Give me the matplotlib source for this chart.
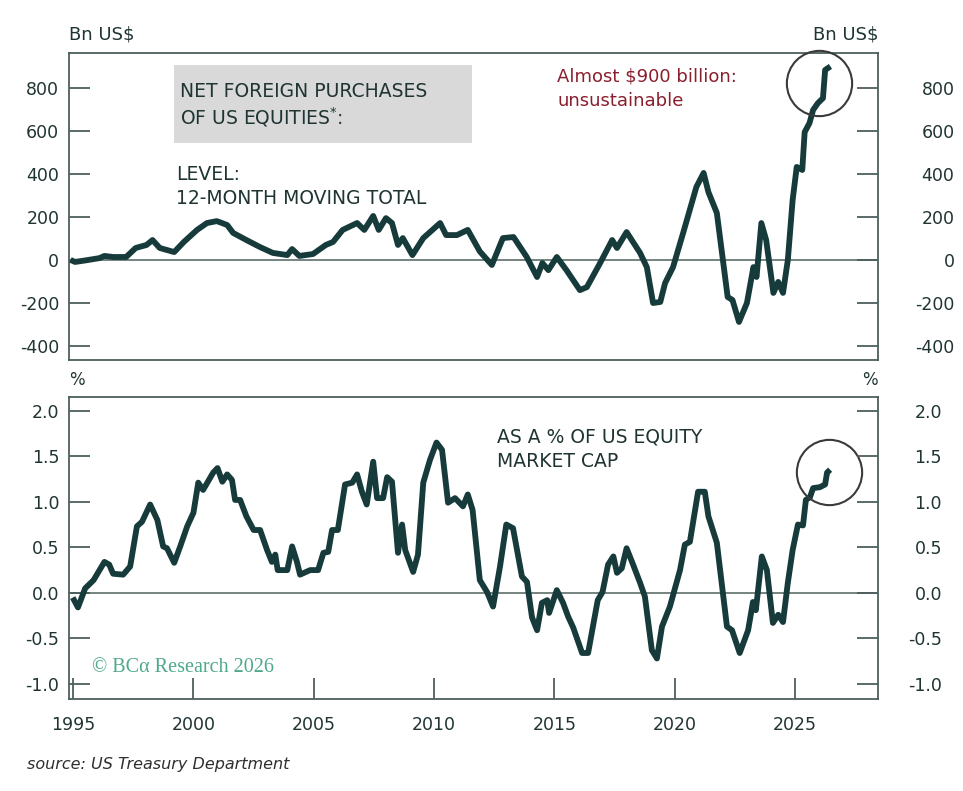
import matplotlib
matplotlib.use('Agg')
import matplotlib.pyplot as plt
from matplotlib.patches import Rectangle

plt.rcParams['font.family'] = ['DejaVu Sans']
plt.rcParams['axes.unicode_minus'] = False

# 12-month moving total of net foreign purchases of US equities, Bn US$
lvl_year = [1995.0, 1995.08, 1995.5, 1996.1, 1996.3, 1996.66, 1997.2, 1997.6, 1998.05, 1998.3,
            1998.6, 1999.2, 1999.6, 2000.15, 2000.56, 2000.97, 2001.4, 2001.65, 2002.2, 2002.77,
            2003.3, 2003.9, 2004.1, 2004.4, 2004.97, 2005.5, 2005.8, 2006.2, 2006.8, 2007.1,
            2007.47, 2007.7, 2008.0, 2008.25, 2008.5, 2008.7, 2009.1, 2009.55, 2010.25, 2010.5,
            2010.95, 2011.4, 2011.9, 2012.4, 2012.86, 2013.3, 2013.85, 2014.28, 2014.5, 2014.75,
            2015.1, 2015.5, 2016.06, 2016.35, 2016.9, 2017.4, 2017.6, 2018.0, 2018.56, 2018.84,
            2019.1, 2019.4, 2019.6, 2019.93, 2020.35, 2020.9, 2021.2, 2021.4, 2021.75, 2022.2,
            2022.4, 2022.67, 2023.0, 2023.27, 2023.4, 2023.6, 2023.8, 2024.1, 2024.3, 2024.5,
            2024.7, 2024.9, 2025.07, 2025.3, 2025.4, 2025.6, 2025.75, 2025.95, 2026.16, 2026.25,
            2026.37]
lvl_bn = [-5, -9, -2, 9, 19, 14, 14, 56, 70, 93,
          56, 37, 84, 140, 172, 181, 163, 126, 93, 60,
          33, 23, 51, 19, 28, 70, 84, 140, 172, 140,
          205, 140, 195, 172, 70, 102, 23, 102, 172, 116,
          116, 140, 40, -23, 102, 107, 14, -79, -14, -47,
          14, -47, -140, -126, -14, 93, 56, 130, 33, -33,
          -200, -195, -107, -33, 126, 340, 405, 316, 219, -172,
          -186, -288, -200, -33, -79, 172, 93, -153, -102, -153,
          0, 279, 433, 419, 595, 637, 698, 730, 753, 884,
          893]

# same flow as a % of US equity market cap
pct_year = [1995.04, 1995.2, 1995.5, 1995.85, 1996.1, 1996.3, 1996.5, 1996.66, 1997.08, 1997.37,
            1997.65, 1997.86, 1998.2, 1998.5, 1998.74, 1998.9, 1999.2, 1999.45, 1999.74, 2000.0,
            2000.2, 2000.4, 2000.82, 2001.0, 2001.2, 2001.4, 2001.6, 2001.73, 2001.94, 2002.2,
            2002.5, 2002.77, 2003.06, 2003.26, 2003.4, 2003.5, 2003.9, 2004.1, 2004.3, 2004.43,
            2004.85, 2005.18, 2005.4, 2005.6, 2005.76, 2006.0, 2006.3, 2006.6, 2006.8, 2007.0,
            2007.2, 2007.47, 2007.63, 2007.88, 2008.05, 2008.25, 2008.5, 2008.67, 2008.8, 2009.13,
            2009.33, 2009.55, 2009.83, 2010.1, 2010.33, 2010.58, 2010.87, 2011.2, 2011.4, 2011.6,
            2011.9, 2012.2, 2012.45, 2012.74, 2013.0, 2013.28, 2013.65, 2013.86, 2014.07, 2014.28,
            2014.48, 2014.7, 2014.78, 2015.1, 2015.36, 2015.57, 2015.78, 2016.15, 2016.4, 2016.8,
            2017.0, 2017.23, 2017.45, 2017.6, 2017.8, 2018.0, 2018.27, 2018.56, 2018.76, 2019.05,
            2019.26, 2019.47, 2019.8, 2020.22, 2020.42, 2020.63, 2020.97, 2021.25, 2021.4, 2021.75,
            2022.17, 2022.38, 2022.7, 2023.05, 2023.25, 2023.37, 2023.62, 2023.83, 2024.08, 2024.3,
            2024.5, 2024.7, 2024.9, 2025.12, 2025.33, 2025.45, 2025.62, 2025.75, 2026.03, 2026.25,
            2026.33, 2026.37]
pct_val = [-0.08, -0.16, 0.05, 0.14, 0.25, 0.34, 0.31, 0.21, 0.20, 0.29,
           0.73, 0.78, 0.97, 0.80, 0.51, 0.49, 0.33, 0.51, 0.73, 0.88,
           1.21, 1.13, 1.32, 1.37, 1.22, 1.30, 1.24, 1.02, 1.02, 0.84,
           0.69, 0.69, 0.47, 0.34, 0.42, 0.25, 0.25, 0.51, 0.34, 0.20,
           0.25, 0.25, 0.44, 0.45, 0.69, 0.69, 1.19, 1.21, 1.30, 1.11,
           0.97, 1.44, 1.04, 1.04, 1.27, 1.22, 0.44, 0.75, 0.47, 0.23,
           0.42, 1.21, 1.46, 1.65, 1.57, 0.99, 1.04, 0.95, 1.08, 0.91,
           0.14, 0.01, -0.15, 0.29, 0.75, 0.71, 0.18, 0.12, -0.27, -0.41,
           -0.11, -0.08, -0.22, 0.03, -0.11, -0.26, -0.38, -0.66, -0.66, -0.08,
           0.01, 0.31, 0.40, 0.22, 0.27, 0.49, 0.31, 0.11, -0.04, -0.63,
           -0.72, -0.37, -0.15, 0.25, 0.53, 0.56, 1.11, 1.11, 0.84, 0.55,
           -0.37, -0.41, -0.66, -0.41, -0.10, -0.19, 0.40, 0.25, -0.33, -0.24,
           -0.32, 0.11, 0.47, 0.75, 0.74, 1.02, 1.05, 1.15, 1.16, 1.19,
           1.32, 1.33]

lvl_ticks = [-400, -200, 0, 200, 400, 600, 800]
pct_ticks = [-1.0, -0.5, 0.0, 0.5, 1.0, 1.5, 2.0]
year_ticks = [1995, 2000, 2005, 2010, 2015, 2020, 2025]

LINE = '#173b3b'
SPINE = '#4c5f5d'
TXT = '#1f3433'
RED = '#8a1f2d'

fig = plt.figure(figsize=(9.63, 7.91), dpi=100)
ax1 = fig.add_axes([0.0717, 0.5449, 0.8401, 0.3881])
ax2 = fig.add_axes([0.0717, 0.1163, 0.8401, 0.3818])


def style_panel(ax, ticks, lim, fmt, rpad):
    ax.set_ylim(*lim)
    ax.set_xlim(1994.83, 2028.45)
    ax.set_yticks(ticks)
    ax.set_yticklabels([fmt.format(t) for t in ticks])
    for s in ax.spines.values():
        s.set_color(SPINE)
        s.set_linewidth(1.3)
    ax.tick_params(axis='y', direction='in', length=15, width=1.3, color=SPINE,
                   labelsize=12.5, labelcolor=TXT, pad=7)
    ax.axhline(0, color='#5d6e6c', lw=1.2, zorder=1)
    # right-hand axis with right-aligned labels
    tw = ax.twinx()
    tw.set_ylim(*lim)
    tw.set_yticks(ticks)
    tw.set_yticklabels([fmt.format(t) for t in ticks])
    for s in tw.spines.values():
        s.set_visible(False)
    tw.tick_params(axis='y', direction='in', length=15, width=1.3, color=SPINE,
                   labelsize=12.5, labelcolor=TXT, pad=rpad)
    for lab in tw.get_yticklabels():
        lab.set_ha('right')
    return tw


style_panel(ax1, lvl_ticks, (-465, 963), '{:.0f}', 55)
style_panel(ax2, pct_ticks, (-1.165, 2.15), '{:.1f}', 46)

ax1.tick_params(axis='x', bottom=False, labelbottom=False)
ax2.set_xticks(year_ticks)
ax2.set_xticklabels([str(y) for y in year_ticks])
ax2.tick_params(axis='x', direction='in', length=15, width=1.3, color=SPINE,
                labelsize=12.5, labelcolor=TXT, pad=12)

ax1.plot(lvl_year, lvl_bn, color=LINE, lw=4.2, solid_joinstyle='round', zorder=3)
ax2.plot(pct_year, pct_val, color=LINE, lw=4.2, solid_joinstyle='round', zorder=3)

# highlight circles around the latest readings
ax1.plot([2025.99], [823], marker='o', ms=47, mfc='none', mec='#3a3a3a', mew=1.5,
         clip_on=False, zorder=4)
ax2.plot([2026.41], [1.33], marker='o', ms=47, mfc='none', mec='#3a3a3a', mew=1.5,
         clip_on=False, zorder=4)

# unit labels
fig.text(69 / 963, 1 - 35 / 791, 'Bn US$', ha='left', va='center', fontsize=13, color=TXT)
fig.text(878 / 963, 1 - 35 / 791, 'Bn US$', ha='right', va='center', fontsize=13, color=TXT)
fig.text(69 / 963, 1 - 380 / 791, '%', ha='left', va='center', fontsize=12, color=TXT)
fig.text(878 / 963, 1 - 380 / 791, '%', ha='right', va='center', fontsize=12, color=TXT)

# title box
ax1.add_patch(Rectangle((0.130, 0.707), 0.368, 0.254, transform=ax1.transAxes,
                        facecolor='#d9d9d9', edgecolor='none', zorder=2))
ax1.text(0.137, (360 - 92) / 307, 'NET FOREIGN PURCHASES', transform=ax1.transAxes,
         ha='left', va='center', fontsize=13.5, color=TXT, zorder=3)
ax1.text(0.137, (360 - 117) / 307, 'OF US EQUITIES$^{*}$:', transform=ax1.transAxes,
         ha='left', va='center', fontsize=13.5, color=TXT, zorder=3)
ax1.text((176 - 69) / 809, (360 - 175) / 307, 'LEVEL:', transform=ax1.transAxes,
         ha='left', va='center', fontsize=13.5, color=TXT)
ax1.text((176 - 69) / 809, (360 - 199) / 307, '12-MONTH MOVING TOTAL', transform=ax1.transAxes,
         ha='left', va='center', fontsize=13.5, color=TXT)
ax1.text((557 - 69) / 809, (360 - 77) / 307, 'Almost $900 billion:', transform=ax1.transAxes,
         ha='left', va='center', fontsize=13, color=RED)
ax1.text((557 - 69) / 809, (360 - 101) / 307, 'unsustainable', transform=ax1.transAxes,
         ha='left', va='center', fontsize=13, color=RED)

ax2.text((497 - 69) / 809, (699 - 437) / 302, 'AS A % OF US EQUITY', transform=ax2.transAxes,
         ha='left', va='center', fontsize=13.5, color=TXT)
ax2.text((497 - 69) / 809, (699 - 461) / 302, 'MARKET CAP', transform=ax2.transAxes,
         ha='left', va='center', fontsize=13.5, color=TXT)

ax2.text((92 - 69) / 809, (699 - 667) / 302, '© BCα Research 2026', transform=ax2.transAxes,
         ha='left', va='center', fontsize=14.5, color='#4ea98c', family=['Liberation Serif'])

fig.text(27 / 963, 1 - 765 / 791, 'source: US Treasury Department', ha='left', va='center',
         fontsize=11.5, style='italic', color='#2e2e2e')

fig.savefig('out.png', dpi=100)
